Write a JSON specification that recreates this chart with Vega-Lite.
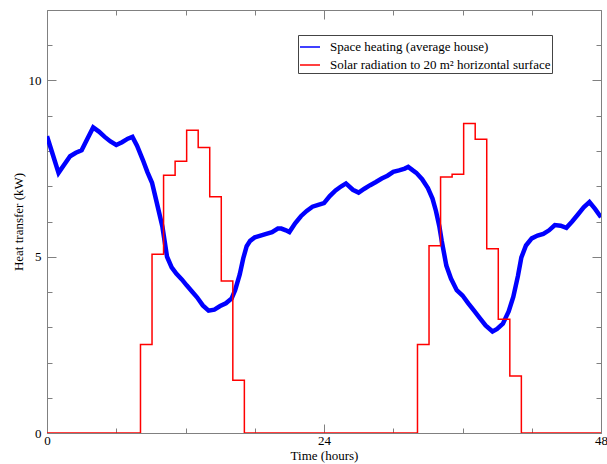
{
  "$schema": "https://vega.github.io/schema/vega-lite/v6.json",
  "width": 554,
  "height": 423,
  "autosize": "none",
  "padding": {"left": 47, "top": 10, "right": 6, "bottom": 31},
  "background": "white",
  "config": {
    "view": {"stroke": "#808080", "strokeWidth": 1},
    "font": "Liberation Serif",
    "axis": {
      "grid": false,
      "domain": false,
      "tickColor": "#808080",
      "labelFont": "Liberation Serif",
      "labelFontSize": 13,
      "labelColor": "#000000",
      "titleFont": "Liberation Serif",
      "titleFontSize": 13,
      "titleFontWeight": "normal",
      "titleColor": "#000000",
      "labelOverlap": false,
      "labelFlush": false,
      "labelBound": false
    },
    "legend": {
      "labelFont": "Liberation Serif",
      "labelFontSize": 13,
      "labelColor": "#000000",
      "labelLimit": 0
    }
  },
  "datasets": {
    "heat": [
      {"t": 0, "v": 8.42, "series": "Space heating (average house)"},
      {"t": 0.5, "v": 7.9, "series": "Space heating (average house)"},
      {"t": 1.0, "v": 7.38, "series": "Space heating (average house)"},
      {"t": 1.5, "v": 7.62, "series": "Space heating (average house)"},
      {"t": 2.0, "v": 7.85, "series": "Space heating (average house)"},
      {"t": 2.5, "v": 7.95, "series": "Space heating (average house)"},
      {"t": 3.0, "v": 8.02, "series": "Space heating (average house)"},
      {"t": 3.5, "v": 8.35, "series": "Space heating (average house)"},
      {"t": 4.0, "v": 8.67, "series": "Space heating (average house)"},
      {"t": 4.5, "v": 8.55, "series": "Space heating (average house)"},
      {"t": 5.0, "v": 8.4, "series": "Space heating (average house)"},
      {"t": 5.5, "v": 8.27, "series": "Space heating (average house)"},
      {"t": 6.0, "v": 8.17, "series": "Space heating (average house)"},
      {"t": 6.5, "v": 8.25, "series": "Space heating (average house)"},
      {"t": 7.0, "v": 8.35, "series": "Space heating (average house)"},
      {"t": 7.4, "v": 8.4, "series": "Space heating (average house)"},
      {"t": 7.8, "v": 8.15, "series": "Space heating (average house)"},
      {"t": 8.3, "v": 7.75, "series": "Space heating (average house)"},
      {"t": 8.7, "v": 7.4, "series": "Space heating (average house)"},
      {"t": 9.1, "v": 7.1, "series": "Space heating (average house)"},
      {"t": 9.5, "v": 6.55, "series": "Space heating (average house)"},
      {"t": 10.0, "v": 5.85, "series": "Space heating (average house)"},
      {"t": 10.4, "v": 5.0, "series": "Space heating (average house)"},
      {"t": 10.8, "v": 4.7, "series": "Space heating (average house)"},
      {"t": 11.2, "v": 4.52, "series": "Space heating (average house)"},
      {"t": 11.7, "v": 4.35, "series": "Space heating (average house)"},
      {"t": 12.1, "v": 4.19, "series": "Space heating (average house)"},
      {"t": 12.6, "v": 4.0, "series": "Space heating (average house)"},
      {"t": 13.0, "v": 3.85, "series": "Space heating (average house)"},
      {"t": 13.5, "v": 3.62, "series": "Space heating (average house)"},
      {"t": 14.0, "v": 3.47, "series": "Space heating (average house)"},
      {"t": 14.5, "v": 3.5, "series": "Space heating (average house)"},
      {"t": 15.0, "v": 3.6, "series": "Space heating (average house)"},
      {"t": 15.5, "v": 3.68, "series": "Space heating (average house)"},
      {"t": 16.0, "v": 3.82, "series": "Space heating (average house)"},
      {"t": 16.3, "v": 4.05, "series": "Space heating (average house)"},
      {"t": 16.7, "v": 4.5, "series": "Space heating (average house)"},
      {"t": 17.0, "v": 4.95, "series": "Space heating (average house)"},
      {"t": 17.3, "v": 5.3, "series": "Space heating (average house)"},
      {"t": 17.6, "v": 5.45, "series": "Space heating (average house)"},
      {"t": 18.0, "v": 5.55, "series": "Space heating (average house)"},
      {"t": 18.5, "v": 5.6, "series": "Space heating (average house)"},
      {"t": 19.0, "v": 5.65, "series": "Space heating (average house)"},
      {"t": 19.5, "v": 5.7, "series": "Space heating (average house)"},
      {"t": 20.0, "v": 5.8, "series": "Space heating (average house)"},
      {"t": 20.3, "v": 5.8, "series": "Space heating (average house)"},
      {"t": 20.7, "v": 5.75, "series": "Space heating (average house)"},
      {"t": 21.0, "v": 5.7, "series": "Space heating (average house)"},
      {"t": 21.5, "v": 5.95, "series": "Space heating (average house)"},
      {"t": 22.0, "v": 6.15, "series": "Space heating (average house)"},
      {"t": 22.5, "v": 6.3, "series": "Space heating (average house)"},
      {"t": 23.0, "v": 6.42, "series": "Space heating (average house)"},
      {"t": 23.5, "v": 6.47, "series": "Space heating (average house)"},
      {"t": 24.0, "v": 6.52, "series": "Space heating (average house)"},
      {"t": 24.5, "v": 6.72, "series": "Space heating (average house)"},
      {"t": 25.0, "v": 6.88, "series": "Space heating (average house)"},
      {"t": 25.5, "v": 7.0, "series": "Space heating (average house)"},
      {"t": 25.9, "v": 7.08, "series": "Space heating (average house)"},
      {"t": 26.5, "v": 6.9, "series": "Space heating (average house)"},
      {"t": 27.0, "v": 6.82, "series": "Space heating (average house)"},
      {"t": 27.5, "v": 6.93, "series": "Space heating (average house)"},
      {"t": 28.0, "v": 7.03, "series": "Space heating (average house)"},
      {"t": 28.5, "v": 7.12, "series": "Space heating (average house)"},
      {"t": 29.0, "v": 7.22, "series": "Space heating (average house)"},
      {"t": 29.5, "v": 7.3, "series": "Space heating (average house)"},
      {"t": 30.0, "v": 7.41, "series": "Space heating (average house)"},
      {"t": 30.5, "v": 7.45, "series": "Space heating (average house)"},
      {"t": 31.0, "v": 7.5, "series": "Space heating (average house)"},
      {"t": 31.3, "v": 7.55, "series": "Space heating (average house)"},
      {"t": 31.7, "v": 7.45, "series": "Space heating (average house)"},
      {"t": 32.0, "v": 7.38, "series": "Space heating (average house)"},
      {"t": 32.5, "v": 7.2, "series": "Space heating (average house)"},
      {"t": 33.0, "v": 6.95, "series": "Space heating (average house)"},
      {"t": 33.4, "v": 6.65, "series": "Space heating (average house)"},
      {"t": 33.7, "v": 6.3, "series": "Space heating (average house)"},
      {"t": 34.0, "v": 5.85, "series": "Space heating (average house)"},
      {"t": 34.2, "v": 5.45, "series": "Space heating (average house)"},
      {"t": 34.6, "v": 4.75, "series": "Space heating (average house)"},
      {"t": 35.0, "v": 4.38, "series": "Space heating (average house)"},
      {"t": 35.5, "v": 4.05, "series": "Space heating (average house)"},
      {"t": 36.0, "v": 3.9, "series": "Space heating (average house)"},
      {"t": 36.5, "v": 3.68, "series": "Space heating (average house)"},
      {"t": 37.0, "v": 3.47, "series": "Space heating (average house)"},
      {"t": 37.5, "v": 3.26, "series": "Space heating (average house)"},
      {"t": 38.0, "v": 3.05, "series": "Space heating (average house)"},
      {"t": 38.6, "v": 2.88, "series": "Space heating (average house)"},
      {"t": 39.0, "v": 2.95, "series": "Space heating (average house)"},
      {"t": 39.5, "v": 3.1, "series": "Space heating (average house)"},
      {"t": 40.0, "v": 3.45, "series": "Space heating (average house)"},
      {"t": 40.4, "v": 3.86, "series": "Space heating (average house)"},
      {"t": 40.8, "v": 4.45, "series": "Space heating (average house)"},
      {"t": 41.1, "v": 4.98, "series": "Space heating (average house)"},
      {"t": 41.5, "v": 5.32, "series": "Space heating (average house)"},
      {"t": 42.0, "v": 5.52, "series": "Space heating (average house)"},
      {"t": 42.5, "v": 5.6, "series": "Space heating (average house)"},
      {"t": 43.0, "v": 5.65, "series": "Space heating (average house)"},
      {"t": 43.5, "v": 5.75, "series": "Space heating (average house)"},
      {"t": 44.0, "v": 5.9, "series": "Space heating (average house)"},
      {"t": 44.5, "v": 5.88, "series": "Space heating (average house)"},
      {"t": 45.0, "v": 5.82, "series": "Space heating (average house)"},
      {"t": 45.5, "v": 6.0, "series": "Space heating (average house)"},
      {"t": 46.0, "v": 6.2, "series": "Space heating (average house)"},
      {"t": 46.5, "v": 6.4, "series": "Space heating (average house)"},
      {"t": 47.0, "v": 6.55, "series": "Space heating (average house)"},
      {"t": 47.5, "v": 6.35, "series": "Space heating (average house)"},
      {"t": 48.0, "v": 6.12, "series": "Space heating (average house)"}
    ],
    "solar": [
      {"t": 0, "v": 0, "series": "Solar radiation to 20 m² horizontal surface"},
      {"t": 8.1, "v": 2.51, "series": "Solar radiation to 20 m² horizontal surface"},
      {"t": 9.1, "v": 5.07, "series": "Solar radiation to 20 m² horizontal surface"},
      {"t": 10.1, "v": 7.31, "series": "Solar radiation to 20 m² horizontal surface"},
      {"t": 11.1, "v": 7.71, "series": "Solar radiation to 20 m² horizontal surface"},
      {"t": 12.1, "v": 8.59, "series": "Solar radiation to 20 m² horizontal surface"},
      {"t": 13.1, "v": 8.1, "series": "Solar radiation to 20 m² horizontal surface"},
      {"t": 14.1, "v": 6.7, "series": "Solar radiation to 20 m² horizontal surface"},
      {"t": 15.1, "v": 4.31, "series": "Solar radiation to 20 m² horizontal surface"},
      {"t": 16.1, "v": 1.5, "series": "Solar radiation to 20 m² horizontal surface"},
      {"t": 17.1, "v": 0, "series": "Solar radiation to 20 m² horizontal surface"},
      {"t": 32.1, "v": 2.51, "series": "Solar radiation to 20 m² horizontal surface"},
      {"t": 33.1, "v": 5.31, "series": "Solar radiation to 20 m² horizontal surface"},
      {"t": 34.1, "v": 7.26, "series": "Solar radiation to 20 m² horizontal surface"},
      {"t": 35.1, "v": 7.34, "series": "Solar radiation to 20 m² horizontal surface"},
      {"t": 36.1, "v": 8.78, "series": "Solar radiation to 20 m² horizontal surface"},
      {"t": 37.1, "v": 8.33, "series": "Solar radiation to 20 m² horizontal surface"},
      {"t": 38.1, "v": 5.23, "series": "Solar radiation to 20 m² horizontal surface"},
      {"t": 39.1, "v": 3.23, "series": "Solar radiation to 20 m² horizontal surface"},
      {"t": 40.1, "v": 1.62, "series": "Solar radiation to 20 m² horizontal surface"},
      {"t": 41.1, "v": 0, "series": "Solar radiation to 20 m² horizontal surface"},
      {"t": 48, "v": 0, "series": "Solar radiation to 20 m² horizontal surface"}
    ]
  },
  "resolve": {"axis": {"x": "independent", "y": "independent"}},
  "layer": [
    {
      "data": {"name": "heat"},
      "mark": {"type": "line", "strokeWidth": 4.5, "clip": true},
      "encoding": {
        "x": {
          "field": "t", "type": "quantitative",
          "scale": {"domain": [0, 48], "nice": false, "zero": false},
          "axis": {
            "orient": "bottom",
            "values": [0, 6, 12, 18, 24, 30, 36, 42, 48],
            "labelExpr": "datum.value % 24 === 0 ? datum.label : ''",
            "tickSize": {"condition": {"test": "datum.value % 24 === 0", "value": -9}, "value": -5},
            "labelPadding": 10,
            "title": "Time (hours)",
            "titlePadding": -2
          }
        },
        "y": {
          "field": "v", "type": "quantitative",
          "scale": {"domain": [0, 12], "nice": false},
          "axis": {
            "orient": "left",
            "values": [0, 1, 2, 3, 4, 5, 6, 7, 8, 9, 10, 11, 12],
            "labelExpr": "datum.value % 5 === 0 ? datum.label : ''",
            "tickSize": {"condition": {"test": "datum.value % 5 === 0", "value": -9}, "value": -5},
            "labelPadding": 15,
            "title": "Heat transfer (kW)",
            "titlePadding": 3
          }
        },
        "color": {
          "field": "series", "type": "nominal",
          "scale": {
            "domain": ["Space heating (average house)", "Solar radiation to 20 m² horizontal surface"],
            "range": ["#0000ff", "#ff0000"]
          },
          "legend": {
            "title": null,
            "orient": "none",
            "legendX": 251,
            "legendY": 25,
            "symbolType": "stroke",
            "symbolSize": 400,
            "symbolStrokeWidth": 1.5,
            "labelOffset": 9,
            "labelLimit": 0,
            "padding": 1,
            "rowPadding": -2,
            "strokeColor": "#444444",
            "fillColor": "#ffffff"
          }
        }
      }
    },
    {
      "data": {"name": "solar"},
      "mark": {"type": "line", "strokeWidth": 1.5, "interpolate": "step-after", "clip": true},
      "encoding": {
        "x": {
          "field": "t", "type": "quantitative",
          "axis": {
            "orient": "top",
            "values": [0, 6, 12, 18, 24, 30, 36, 42, 48],
            "labels": false,
            "tickSize": {"condition": {"test": "datum.value % 24 === 0", "value": -9}, "value": -5},
            "title": null
          }
        },
        "y": {
          "field": "v", "type": "quantitative",
          "axis": {
            "orient": "right",
            "values": [0, 1, 2, 3, 4, 5, 6, 7, 8, 9, 10, 11, 12],
            "labels": false,
            "tickSize": {"condition": {"test": "datum.value % 5 === 0", "value": -9}, "value": -5},
            "title": null
          }
        },
        "color": {"field": "series", "type": "nominal"}
      }
    }
  ]
}
